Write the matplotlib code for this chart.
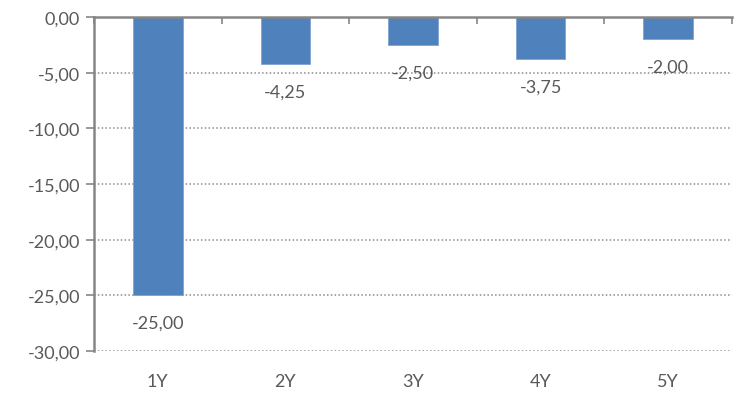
import numpy as np
import matplotlib
matplotlib.use('Agg')
import matplotlib.pyplot as plt

categories = ['1Y', '2Y', '3Y', '4Y', '5Y']
values = [-25.00, -4.25, -2.50, -3.75, -2.00]
y_ticks = [0, -5, -10, -15, -20, -25, -30]

def fmt(v):
    return f"{v:.2f}".replace('.', ',')

plt.rcParams['font.family'] = ['Lato', 'DejaVu Sans']
grey = '#595959'

fig = plt.figure(figsize=(7.42, 4.06), dpi=100)
ax = fig.add_axes([94/742, 1-352/406, (732-94)/742, (352-18)/406])

x = np.arange(len(categories))
ax.bar(x, values, width=0.39, color='#4F81BD', edgecolor='#7FA3D3', linewidth=0.6, zorder=3)

for xi, v in zip(x, values):
    ax.annotate(fmt(v), (xi, v), xytext=(0, -20), textcoords='offset points',
                ha='center', va='center', fontsize=13, color=grey, zorder=4)

ax.set_xlim(-0.5, len(categories) - 0.5)
ax.set_ylim(-30, 0)

ax.set_yticks(y_ticks)
ax.set_yticklabels([fmt(v) for v in y_ticks])
for v in y_ticks[1:]:
    ax.axhline(v, color='#8c8c8c', linestyle=(0, (1, 1.5)), linewidth=1.1, zorder=1)

ax.set_xticks(x)
ax.set_xticklabels(categories)
ax.set_xticks(np.arange(len(categories) + 1) - 0.5, minor=True)
ax.tick_params(axis='x', which='major', length=0, pad=16, labelsize=13, labelcolor=grey)
ax.tick_params(axis='x', which='minor', bottom=False, top=True, direction='in', length=5,
               width=1.2, color='#868686')
ax.tick_params(axis='y', length=6, width=1.2, color='#868686', labelsize=13, labelcolor=grey, pad=4)

for side in ['right', 'bottom']:
    ax.spines[side].set_visible(False)
for side in ['left', 'top']:
    ax.spines[side].set_color('#868686')
    ax.spines[side].set_linewidth(1.8)
    ax.spines[side].set_zorder(5)

fig.savefig('out.png', dpi=100)
